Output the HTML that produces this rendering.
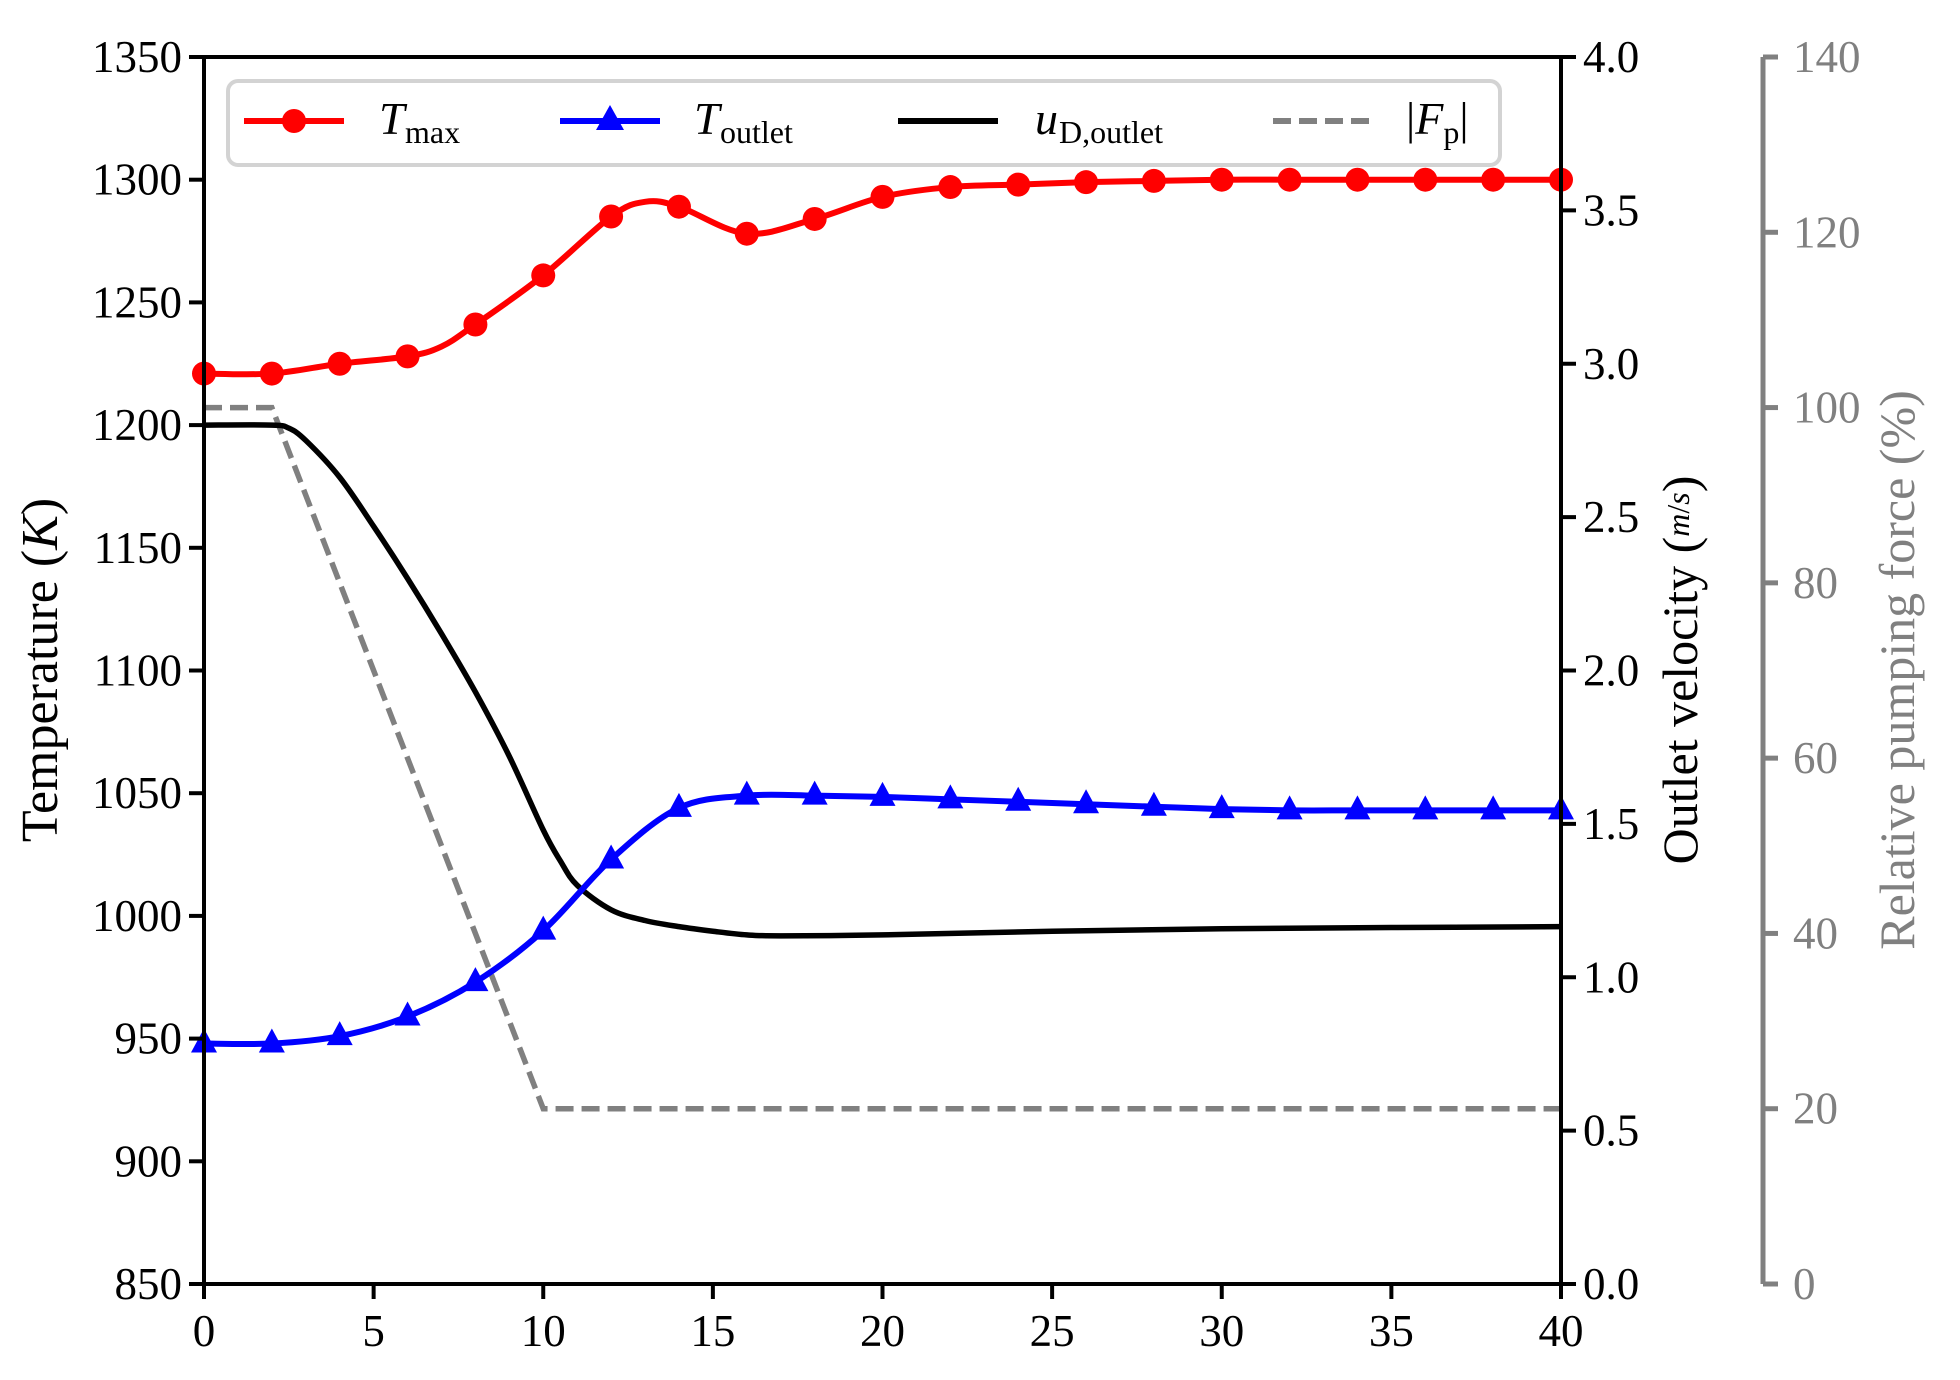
<!DOCTYPE html>
<html><head><meta charset="utf-8"><style>
html,body{margin:0;padding:0;background:#fff;}
svg text{font-family:"Liberation Serif","DejaVu Serif",serif;}
</style></head><body>
<svg id="s" width="1960" height="1375" xmlns="http://www.w3.org/2000/svg">
<rect width="1960" height="1375" fill="#fff"/>
<g id="g"></g>
<!-- legend -->
<rect x="228" y="81" width="1272" height="84" rx="10" fill="#fff" stroke="#d3d3d3" stroke-width="4"/>
<line x1="244" y1="121" x2="344" y2="121" stroke="#f00" stroke-width="6"/>
<circle cx="294" cy="121" r="12" fill="#f00"/>
<text x="379" y="134" font-size="46" font-style="italic">T</text><text x="405" y="143" font-size="32">max</text>
<line x1="560" y1="121" x2="660" y2="121" stroke="#00f" stroke-width="6"/>
<polygon points="610,105 624,130 596,130" fill="#00f"/>
<text x="694" y="134" font-size="46" font-style="italic">T</text><text x="720" y="143" font-size="32">outlet</text>
<line x1="898" y1="121" x2="998" y2="121" stroke="#000" stroke-width="6"/>
<text x="1035" y="134" font-size="46" font-style="italic">u</text><text x="1059" y="143" font-size="32">D,outlet</text>
<line x1="1273" y1="121" x2="1373" y2="121" stroke="#808080" stroke-width="6" stroke-dasharray="18,8"/>
<text x="1406" y="134" font-size="46">|<tspan font-style="italic">F</tspan><tspan font-size="32" dy="9">p</tspan><tspan dy="-9">|</tspan></text>
</svg>
<script>
var g=document.getElementById('g'),NS='http://www.w3.org/2000/svg';
function el(t,a,txt){var e=document.createElementNS(NS,t);for(var k in a)e.setAttribute(k,a[k]);if(txt!==undefined)e.textContent=txt;g.appendChild(e);return e;}
var L=204,R=1561,T=57,B=1284;
function X(t){return L+(R-L)*t/40;}
function YT(v){return B-(v-850)*(B-T)/500;}
function YU(v){return B-v*(B-T)/4;}
function YF(v){return B-v*(B-T)/140;}
function smooth(pts){var d='M'+pts[0][0]+','+pts[0][1];for(var i=0;i<pts.length-1;i++){var p0=pts[Math.max(i-1,0)],p1=pts[i],p2=pts[i+1],p3=pts[Math.min(i+2,pts.length-1)];
var c1=[p1[0]+(p2[0]-p0[0])/6,p1[1]+(p2[1]-p0[1])/6],c2=[p2[0]-(p3[0]-p1[0])/6,p2[1]-(p3[1]-p1[1])/6];d+=' C'+c1+' '+c2+' '+p2;}return d;}
el('polyline',{points:[[X(0),YF(100)],[X(2),YF(100)],[X(10),YF(20)],[X(40),YF(20)]].join(' '),fill:'none',stroke:'#808080','stroke-width':5.5,'stroke-dasharray':'18,8'});
var u=[[0,2.8],[2,2.8],[2.5,2.79],[3,2.75],[4,2.63],[5,2.47],[6,2.3],[7,2.12],[8,1.93],[9,1.72],[10,1.48],[10.5,1.38],[11,1.3],[12,1.22],[13,1.185],[14,1.165],[15,1.15],[16,1.138],[17,1.135],[20,1.138],[25,1.15],[30,1.158],[35,1.162],[40,1.165]];
el('path',{d:smooth(u.map(p=>[X(p[0]),YU(p[1])])),fill:'none',stroke:'#000','stroke-width':5.5});
var to=[948,948,951,959,973,994,1023,1044,1049,1049,1048.5,1047.5,1046.5,1045.5,1044.5,1043.5,1043,1043,1043,1043,1043];
var pto=to.map((v,i)=>[X(2*i),YT(v)]);
el('path',{d:smooth(pto),fill:'none',stroke:'#00f','stroke-width':6});
pto.forEach(p=>el('polygon',{points:[p[0],p[1]-15,p[0]+13,p[1]+9,p[0]-13,p[1]+9].join(','),fill:'#00f'}));
var tm=[[0,1221],[2,1221],[4,1225],[6,1228],[7,1232],[8,1241],[10,1261],[12,1285],[13,1291],[14,1289],[16,1278],[18,1284],[20,1293],[22,1297],[24,1298],[26,1299],[28,1299.5],[30,1300],[32,1300],[34,1300],[36,1300],[38,1300],[40,1300]];
el('path',{d:smooth(tm.map(p=>[X(p[0]),YT(p[1])])),fill:'none',stroke:'#f00','stroke-width':6});
tm.forEach(p=>{if(p[0]%2==0)el('circle',{cx:X(p[0]),cy:YT(p[1]),r:12,fill:'#f00'});});
el('rect',{x:L,y:T,width:R-L,height:B-T,fill:'none',stroke:'#000','stroke-width':4});
for(var v=850;v<=1350;v+=50){var y=YT(v);el('line',{x1:L-15,y1:y,x2:L,y2:y,stroke:'#000','stroke-width':4});el('text',{x:L-22,y:y+15,'font-size':45,'text-anchor':'end'},v);}
for(var t=0;t<=40;t+=5){var x=X(t);el('line',{x1:x,y1:B,x2:x,y2:B+15,stroke:'#000','stroke-width':4});el('text',{x:x,y:B+62,'font-size':45,'text-anchor':'middle'},t);}
for(var i=0;i<=8;i++){var y=YU(i/2);el('line',{x1:R,y1:y,x2:R+15,y2:y,stroke:'#000','stroke-width':4});el('text',{x:R+22,y:y+15,'font-size':45},(i/2).toFixed(1));}
var GX=1763;el('line',{x1:GX,y1:T,x2:GX,y2:B,stroke:'#808080','stroke-width':5});
for(var p=0;p<=140;p+=20){var y=YF(p);el('line',{x1:GX,y1:y,x2:GX+15,y2:y,stroke:'#808080','stroke-width':5});el('text',{x:GX+30,y:y+15,'font-size':45,fill:'#808080'},p);}
el('text',{transform:'translate(57,670) rotate(-90)','font-size':52,'text-anchor':'middle'}).innerHTML='Temperature  (<tspan font-style="italic">K</tspan>)';
el('text',{transform:'translate(1697,670) rotate(-90)','font-size':50,'text-anchor':'middle'}).innerHTML='Outlet velocity  (<tspan font-style="italic" font-size="32" dy="-8">m</tspan><tspan font-size="32">/</tspan><tspan font-style="italic" font-size="32">s</tspan><tspan dy="8">)</tspan>';
el('text',{transform:'translate(1914,670) rotate(-90)','font-size':50,'text-anchor':'middle',fill:'#808080'},'Relative pumping force (%)');
</script>
</body></html>
